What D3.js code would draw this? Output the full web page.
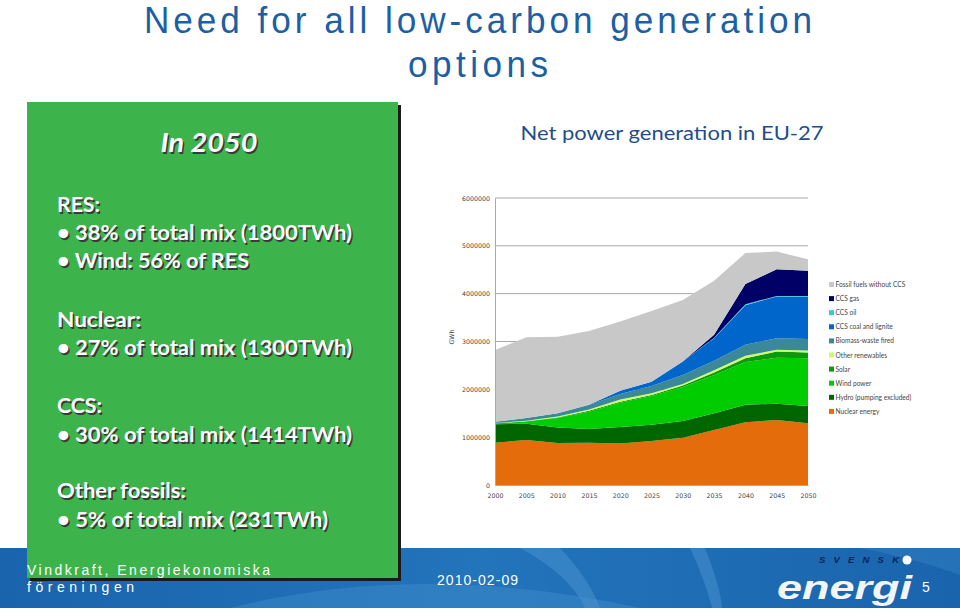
<!DOCTYPE html>
<html>
<head>
<meta charset="utf-8">
<script src="https://cdn.jsdelivr.net/npm/d3@7/dist/d3.min.js"></script>
<style>
  html, body { margin: 0; padding: 0; background: #ffffff; }
  svg { display: block; }
</style>
</head>
<body>
<svg id="chart" width="960" height="613"></svg>
<script>
// ---------------- DATA ----------------
const years = [2000, 2005, 2010, 2015, 2020, 2025, 2030, 2035, 2040, 2045, 2050];
const seriesNames = ["Nuclear energy", "Hydro (pumping excluded)", "Wind power", "Solar",
  "Other renewables", "Biomass-waste fired", "CCS coal and lignite", "CCS oil", "CCS gas",
  "Fossil fuels without CCS"];
const nuclear   = [885000, 940000, 880000, 885000, 870000, 920000, 990000, 1150000, 1310000, 1360000, 1290000];
const hydro     = [385000, 340000, 320000, 285000, 340000, 340000, 350000, 350000, 370000, 340000, 360000];
const wind      = [15000, 50000, 200000, 360000, 510000, 600000, 710000, 800000, 890000, 960000, 1000000];
const solar     = [5000, 5000, 10000, 20000, 20000, 20000, 30000, 50000, 80000, 130000, 120000];
const otherRen  = [5000, 10000, 20000, 30000, 50000, 40000, 30000, 50000, 50000, 40000, 40000];
const biomass   = [25000, 55000, 70000, 90000, 110000, 150000, 190000, 200000, 230000, 240000, 240000];
const ccsCoal   = [0, 0, 0, 10000, 70000, 90000, 280000, 470000, 830000, 870000, 890000];
const ccsOil    = [0, 0, 0, 0, 0, 0, 0, 10000, 20000, 10000, 10000];
const ccsGas    = [0, 0, 0, 0, 0, 0, 0, 60000, 420000, 560000, 530000];
const fossil    = [1500000, 1690000, 1600000, 1540000, 1450000, 1480000, 1290000, 1130000, 650000, 370000, 240000];
const yTicks = [0, 1000000, 2000000, 3000000, 4000000, 5000000, 6000000];
const xTicks = [2000, 2005, 2010, 2015, 2020, 2025, 2030, 2035, 2040, 2045, 2050];
const legendOrder = ["Fossil fuels without CCS", "CCS gas", "CCS oil", "CCS coal and lignite",
  "Biomass-waste fired", "Other renewables", "Solar", "Wind power", "Hydro (pumping excluded)", "Nuclear energy"];
const boxLines = [
  "RES:",
  "• 38% of total mix (1800TWh)",
  "• Wind: 56% of RES",
  "Nuclear:",
  "• 27% of total mix (1300TWh)",
  "CCS:",
  "• 30% of total mix (1414TWh)",
  "Other fossils:",
  "• 5% of total mix (231TWh)"
];

// ---------------- STYLE ----------------
const colors = {
  "Nuclear energy": "#e46c0a",
  "Hydro (pumping excluded)": "#006600",
  "Wind power": "#00cc00",
  "Solar": "#0a9a0a",
  "Other renewables": "#ccff66",
  "Biomass-waste fired": "#3a8898",
  "CCS coal and lignite": "#0066cc",
  "CCS oil": "#33cccc",
  "CCS gas": "#000066",
  "Fossil fuels without CCS": "#c8c8c8"
};
const boxLineY = [212, 240, 268, 327, 355, 413, 442, 498, 527];
const boxLineW = [43, 295, 192, 84, 295, 45, 295, 129, 271];

const svg = d3.select("#chart");
const titleBlue = "#1c5fa5";

// ---------------- FOOTER ----------------
const footer = svg.append("g");
const grad = svg.append("defs").append("linearGradient").attr("id", "fg")
  .attr("x1", 0).attr("x2", 1).attr("y1", 0).attr("y2", 0);
grad.append("stop").attr("offset", "0%").attr("stop-color", "#1a64ad");
grad.append("stop").attr("offset", "50%").attr("stop-color", "#2274bb");
grad.append("stop").attr("offset", "100%").attr("stop-color", "#1a64ad");
footer.append("rect").attr("x", 0).attr("y", 548).attr("width", 960).attr("height", 60).attr("fill", "url(#fg)");
footer.append("path").attr("d", "M230,608 Q420,560 640,608 Z").attr("fill", "#3a88c8").attr("opacity", 0.55);
footer.append("path").attr("d", "M520,548 L560,548 Q590,580 600,608 L585,608 Q570,575 520,548 Z").attr("fill", "#4a93cf").attr("opacity", 0.5);
footer.append("path").attr("d", "M690,548 L705,548 Q720,585 722,608 L712,608 Q705,580 690,548 Z").attr("fill", "#4a93cf").attr("opacity", 0.5);
footer.append("path").attr("d", "M860,548 L960,548 L960,575 Q920,560 860,548 Z").attr("fill", "#3a88c8").attr("opacity", 0.4);

// ---------------- TITLE ----------------
function narrowText(cx, cy, txt, size, width, sx, color) {
  svg.append("g").attr("transform", `translate(${cx},${cy}) scale(${sx},1)`)
    .append("text").attr("x", 0).attr("y", 0).attr("text-anchor", "middle")
    .attr("font-family", "Liberation Sans, Arial, sans-serif").attr("font-size", size)
    .attr("fill", color).attr("textLength", width / sx).attr("lengthAdjust", "spacing")
    .text(txt);
}
narrowText(478, 33, "Need for all low-carbon generation", 37, 668, 0.95, titleBlue);
narrowText(478, 77, "options", 37, 140, 0.95, titleBlue);

// ---------------- GREEN BOX ----------------
svg.append("rect").attr("x", 30).attr("y", 105).attr("width", 371).attr("height", 476).attr("fill", "#1b1b1b");
svg.append("rect").attr("x", 27).attr("y", 102).attr("width", 371).attr("height", 476).attr("fill", "#3cb44b");

function shadowText(g, x, y, txt, opts) {
  const s = g.append("text").attr("x", x + 1.6).attr("y", y + 1.6).attr("fill", "#3a3a3a").text(txt);
  const t = g.append("text").attr("x", x).attr("y", y).attr("fill", "#ffffff").text(txt);
  [s, t].forEach(e => {
    e.attr("font-family", "Lato, Carlito, sans-serif").attr("font-size", opts.size)
      .attr("font-weight", opts.weight || "bold").attr("font-style", opts.style || "normal")
      .attr("text-anchor", opts.anchor || "start");
    if (opts.len) e.attr("textLength", opts.len).attr("lengthAdjust", "spacingAndGlyphs");
  });
}
const boxG = svg.append("g");
shadowText(boxG, 209, 152, "In 2050", {size: 26, style: "italic", anchor: "middle", len: 97});
boxLines.forEach((l, i) => {
  shadowText(boxG, 57, boxLineY[i], l, {size: 20, weight: "bold", len: boxLineW[i]});
});

// ---------------- CHART ----------------
svg.append("text").attr("x", 672).attr("y", 140).attr("text-anchor", "middle")
  .attr("font-family", "Lato, Carlito, sans-serif").attr("font-size", 19.5)
  .attr("fill", "#1f4e8c").attr("textLength", 303).attr("lengthAdjust", "spacingAndGlyphs")
  .text("Net power generation in EU-27");

const x = d3.scaleLinear().domain([2000, 2050]).range([495, 808]);
const y = d3.scaleLinear().domain([0, 6000000]).range([485, 198]);

const table = years.map((yr, i) => ({
  year: yr,
  "Nuclear energy": nuclear[i],
  "Hydro (pumping excluded)": hydro[i],
  "Wind power": wind[i],
  "Solar": solar[i],
  "Other renewables": otherRen[i],
  "Biomass-waste fired": biomass[i],
  "CCS coal and lignite": ccsCoal[i],
  "CCS oil": ccsOil[i],
  "CCS gas": ccsGas[i],
  "Fossil fuels without CCS": fossil[i]
}));
const stacked = d3.stack().keys(seriesNames)(table);

const chart = svg.append("g");
chart.selectAll("line.grid").data(yTicks.slice(1)).join("line")
  .attr("x1", x(2000)).attr("x2", x(2050)).attr("y1", d => y(d)).attr("y2", d => y(d))
  .attr("stroke", "#a8a8a8").attr("stroke-width", 1);

const area = d3.area().x(d => x(d.data.year)).y0(d => y(d[0])).y1(d => y(d[1]));
chart.selectAll("path.layer").data(stacked).join("path")
  .attr("d", area).attr("fill", d => colors[d.key]).attr("stroke", "none");

const yAxis = d3.axisLeft(y).tickValues(yTicks).tickSize(0).tickPadding(5).tickFormat(d3.format("d"));
const yg = chart.append("g").attr("transform", `translate(${x(2000)},0)`).call(yAxis);
yg.select(".domain").attr("stroke", "#a8a8a8");
yg.selectAll("text").attr("font-family", "DejaVu Sans, sans-serif").attr("font-size", 6.3).attr("fill", "#444");

const xAxis = d3.axisBottom(x).tickValues(xTicks).tickSize(0).tickPadding(9).tickFormat(d3.format("d"));
const xg = chart.append("g").attr("transform", `translate(0,${y(0)})`).call(xAxis);
xg.select(".domain").attr("stroke", "#a8a8a8");
xg.selectAll("text").attr("font-family", "DejaVu Sans, sans-serif").attr("font-size", 6.3).attr("fill", "#444");

chart.append("text").attr("transform", `translate(454,337) rotate(-90)`).attr("text-anchor", "middle")
  .attr("font-family", "DejaVu Sans, sans-serif").attr("font-size", 6.3).attr("fill", "#444").text("GWh");

const leg = chart.append("g");
legendOrder.forEach((name, i) => {
  const ly = 285 + i * 14.1;
  leg.append("rect").attr("x", 829).attr("y", ly - 3).attr("width", 5).attr("height", 5).attr("fill", colors[name]);
  leg.append("text").attr("x", 835.5).attr("y", ly + 2).attr("font-family", "Lato, Carlito, sans-serif")
    .attr("font-size", 6.6).attr("fill", "#444").text(name);
});

// ---------------- FOOTER TEXT ----------------
const ft = svg.append("g").attr("font-family", "Liberation Sans, Arial, sans-serif").attr("fill", "#ffffff");
ft.append("text").attr("x", 27).attr("y", 575).attr("font-size", 14).attr("textLength", 243)
  .attr("lengthAdjust", "spacing").text("Vindkraft, Energiekonomiska");
ft.append("text").attr("x", 27).attr("y", 592).attr("font-size", 14).attr("textLength", 107)
  .attr("lengthAdjust", "spacing").text("föreningen");
ft.append("text").attr("x", 437).attr("y", 585).attr("font-size", 14).attr("textLength", 81)
  .attr("lengthAdjust", "spacing").text("2010-02-09");
ft.append("text").attr("x", 922).attr("y", 592).attr("font-size", 14).text("5");
ft.append("text").attr("x", 819).attr("y", 563).attr("font-size", 9.5).attr("font-weight", "bold").attr("font-style", "italic")
  .attr("textLength", 80).attr("lengthAdjust", "spacing").attr("fill", "#0a2550").text("SVENSK");
ft.append("circle").attr("cx", 907).attr("cy", 560).attr("r", 4.5).attr("fill", "#ffffff");
ft.append("text").attr("x", 777).attr("y", 599).attr("font-size", 34).attr("font-weight", "bold").attr("font-style", "italic")
  .attr("textLength", 135).attr("lengthAdjust", "spacingAndGlyphs").attr("fill", "#f2f6fb").text("energi");
</script>
</body>
</html>
